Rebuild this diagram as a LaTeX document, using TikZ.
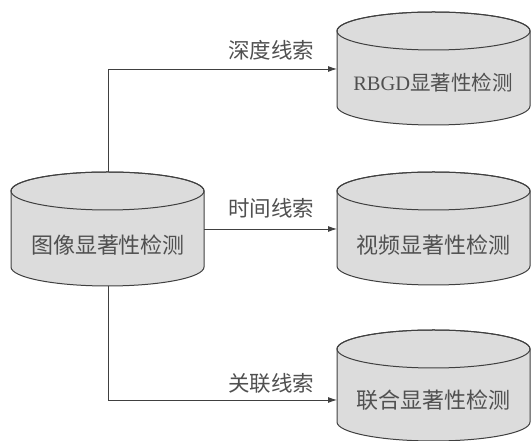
\documentclass[tikz,border=0pt]{standalone}
\usepackage{fontspec}
\setmainfont{Liberation Serif}
\newfontfamily\cjk{Noto Sans CJK SC}
\usetikzlibrary{arrows.meta}
\definecolor{linec}{HTML}{404040}
\definecolor{fillc}{HTML}{DCDCDC}
\definecolor{textc}{HTML}{505050}
\tikzset{
  cylbody/.style={fill=fillc, draw=linec, line width=1pt},
  cyltext/.style={text=textc, font=\cjk\fontsize{22}{24}\selectfont, inner sep=0pt},
  cuetext/.style={text=textc, font=\cjk\fontsize{21.5}{24}\selectfont, inner sep=0pt},
  conn/.style={draw=linec, line width=0.9pt},
  arr/.style={conn, -{Latex[length=9pt,width=6pt]}}
}
\newcommand{\mycyl}[5]{% x1 x2 ytop ybot ry (y upward)
  \path[cylbody] (#1pt,#3pt-#5pt) -- (#1pt,#4pt+#5pt)
    arc[start angle=180,end angle=360,x radius=#2pt/2-#1pt/2,y radius=#5pt]
    -- (#2pt,#3pt-#5pt)
    arc[start angle=0,end angle=180,x radius=#2pt/2-#1pt/2,y radius=#5pt] -- cycle;
  \draw[draw=linec, line width=1pt] (#1pt/2+#2pt/2,#3pt-#5pt) ellipse[x radius=#2pt/2-#1pt/2,y radius=#5pt];
}
\begin{document}
\begin{tikzpicture}[x=1pt,y=1pt]
\useasboundingbox (0,0) rectangle (531,441);
% cylinders (y = 441 - pixel y)
\mycyl{11}{204}{269}{155}{19}
\mycyl{337}{530}{429}{316}{19}
\mycyl{337}{530}{269}{156}{19}
\mycyl{337}{530}{111}{0}{19}
% texts
\node[cyltext] (img) at (108,196) {图像显著性检测};
\node[cyltext, font=\fontsize{20.5}{23}\selectfont] (rgbd) at (433,358) {RBGD{\cjk 显著性检测}};
\node[cyltext] (vid) at (433,196) {视频显著性检测};
\node[cyltext] (joint) at (433,41) {联合显著性检测};
% connector anchors
\coordinate (imgtop) at (108,269);
\coordinate (imgbot) at (108,155);
\coordinate (imgright) at (204,212);
\coordinate (rgbdin) at (337,372);
\coordinate (vidin) at (337,212);
\coordinate (jointin) at (337,41);
\coordinate (c1) at (108,372);
\coordinate (c3) at (108,41);
\draw[arr] (imgtop) -- (c1) -- (rgbdin);
\draw[arr] (imgright) -- (vidin);
\draw[arr] (imgbot) -- (c3) -- (jointin);
% cue labels
\node[cuetext] (l1) at (271,391) {深度线索};
\node[cuetext] (l2) at (271,233) {时间线索};
\node[cuetext] (l3) at (271,58) {关联线索};
\end{tikzpicture}
\end{document}
